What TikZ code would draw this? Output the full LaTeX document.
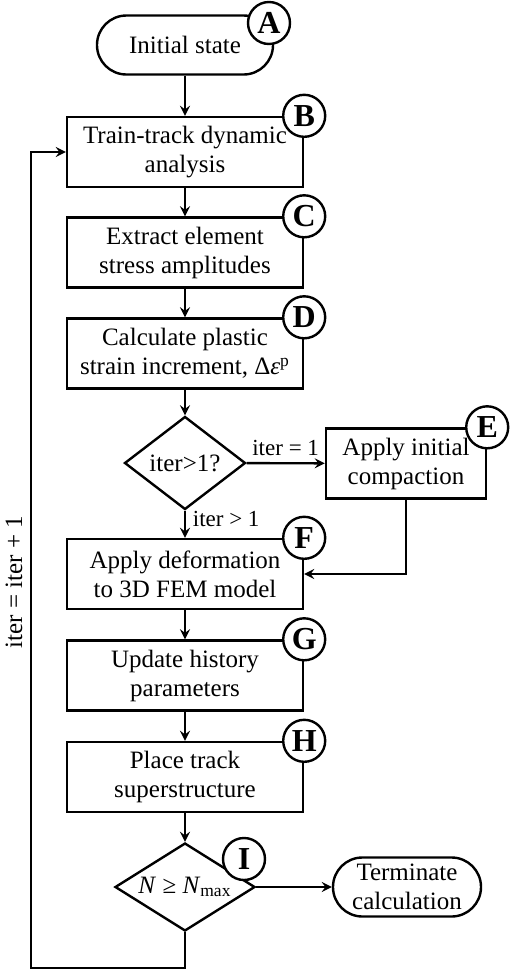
\documentclass[tikz,border=0pt]{standalone}
\usepackage{fontspec}
\setmainfont{Liberation Serif}
\usetikzlibrary{shapes.geometric}

\begin{document}
\begin{tikzpicture}[x=0.5pt,y=-0.5pt,->,>=stealth,line width=1.2pt,
    font=\fontsize{12.5}{14.5}\selectfont,
    block/.style={rectangle,draw,align=center,minimum width=118pt,minimum height=35pt,inner sep=2pt},
    term/.style={rectangle,draw,rounded corners=14.7pt,align=center,minimum height=29.5pt,inner sep=1pt},
    decision/.style={diamond,draw,inner sep=0pt},
    tag/.style={circle,draw,fill=white,minimum size=21pt,inner sep=0pt,font=\bfseries\fontsize{16}{16}\selectfont},
    lbl/.style={font=\fontsize{11.5}{13}\selectfont}]

  \useasboundingbox (0,0) rectangle (512,970);

  \node[term,minimum width=88pt] (A) at (185,45)    {Initial state};
  \node[block] (B) at (185,152)   {Train-track dynamic\\analysis};
  \node[block] (C) at (185,252.5) {Extract element\\stress amplitudes};
  \node[block] (D) at (185,353.5) {Calculate plastic\\strain increment, Δ\textit{ε}\textsuperscript{p}};
  \node[decision,aspect=1.3,minimum width=60.5pt,minimum height=46.5pt] (Q1) at (185,463) {iter>1?};
  \node[block,minimum width=80pt] (E) at (406,463.5) {Apply initial\\compaction};
  \node[block] (F) at (185,574)   {Apply deformation\\to 3D FEM model};
  \node[block] (G) at (185,675.5) {Update history\\parameters};
  \node[block] (H) at (185,777)   {Place track\\superstructure};
  \node[decision,aspect=1.6,minimum width=70pt,minimum height=44pt] (Q2) at (185,887) {\textit{N} ≥ \textit{N}\textsubscript{max}};
  \node[term,minimum width=74pt] (T) at (407,887) {Terminate\\calculation};

  \node[tag] (tA) at (269,23)         {A};
  \node[tag] (tB) at (B.north east)   {B};
  \node[tag] (tC) at (C.north east)   {C};
  \node[tag] (tD) at (D.north east)   {D};
  \node[tag] (tE) at (E.north east)   {E};
  \node[tag] (tF) at (F.north east)   {F};
  \node[tag] (tG) at (G.north east)   {G};
  \node[tag] (tH) at (H.north east)   {H};
  \node[tag] (tI) at (244,859)        {I};

  \draw (A) -- (B);
  \draw (B) -- (C);
  \draw (C) -- (D);
  \draw (D) -- (Q1);
  \draw (Q1) -- node[lbl,above] {iter = 1} (E);
  \draw (Q1) -- node[lbl,right,pos=0.3] {iter > 1} (F);
  \draw (E) |- (F);
  \draw (F) -- (G);
  \draw (G) -- (H);
  \draw (H) -- (Q2);
  \draw (Q2) -- (T);

  % back to the dynamic analysis
  \coordinate (back) at (31,968);
  \draw (Q2) |- (back) |- (B);
  \node[rotate=90] (loop) at (14,582) {iter = iter + 1};
\end{tikzpicture}
\end{document}
